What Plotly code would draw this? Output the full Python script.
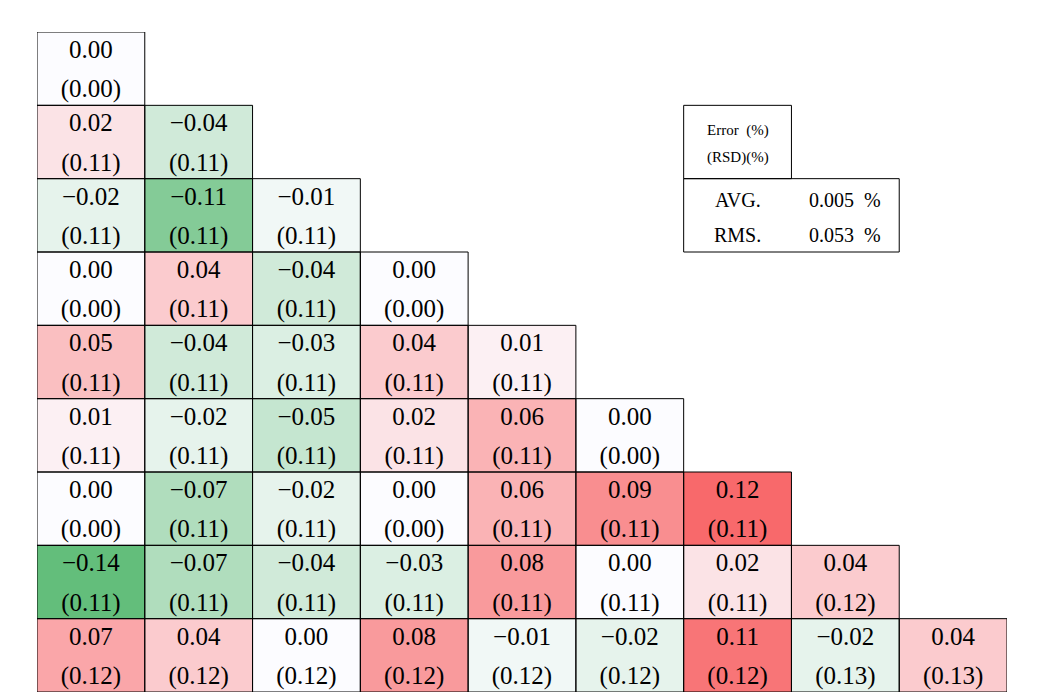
import plotly.graph_objects as go

# Error (%) per cell, lower-triangular grid (row i has i+1 cells)
errors = [
    [0.00],
    [0.02, -0.04],
    [-0.02, -0.11, -0.01],
    [0.00, 0.04, -0.04, 0.00],
    [0.05, -0.04, -0.03, 0.04, 0.01],
    [0.01, -0.02, -0.05, 0.02, 0.06, 0.00],
    [0.00, -0.07, -0.02, 0.00, 0.06, 0.09, 0.12],
    [-0.14, -0.07, -0.04, -0.03, 0.08, 0.00, 0.02, 0.04],
    [0.07, 0.04, 0.00, 0.08, -0.01, -0.02, 0.11, -0.02, 0.04],
]
# RSD (%) per cell
rsd = [
    [0.00],
    [0.11, 0.11],
    [0.11, 0.11, 0.11],
    [0.00, 0.11, 0.11, 0.00],
    [0.11, 0.11, 0.11, 0.11, 0.11],
    [0.11, 0.11, 0.11, 0.11, 0.11, 0.00],
    [0.00, 0.11, 0.11, 0.00, 0.11, 0.11, 0.11],
    [0.11, 0.11, 0.11, 0.11, 0.11, 0.11, 0.11, 0.12],
    [0.12, 0.12, 0.12, 0.12, 0.12, 0.12, 0.12, 0.13, 0.13],
]
summary_labels = ["AVG.", "RMS."]
summary_values = ["0.005\u00a0\u00a0%", "0.053\u00a0\u00a0%"]
legend_lines = ["Error\u00a0\u00a0(%)", "(RSD)(%)"]

n = len(errors)
FONT = "'Liberation Serif', 'DejaVu Serif', serif"

def fmt(v):
    s = f"{v:.2f}"
    return s.replace("-", "\u2212")

z = [[errors[i][j] if j <= i else None for j in range(n)] for i in range(n)]

zmin, zmax = -0.14, 0.12
mid = (0 - zmin) / (zmax - zmin)
colorscale = [[0, "#63BE7B"], [mid, "#FCFCFF"], [1, "#F8696B"]]

fig = go.Figure()
fig.add_trace(go.Heatmap(
    z=z, x=list(range(n)), y=list(range(n)),
    colorscale=colorscale, zmin=zmin, zmax=zmax, showscale=False,
    hoverongaps=False,
))

xs, ys_v, ys_r, tv, tr = [], [], [], [], []
for i in range(n):
    for j in range(i + 1):
        xs.append(j)
        ys_v.append(i - 0.23)
        ys_r.append(i + 0.305)
        tv.append(fmt(errors[i][j]))
        tr.append(f"({rsd[i][j]:.2f})")

fig.add_trace(go.Scatter(x=xs, y=ys_v, text=tv, mode="text",
                         textfont=dict(family=FONT, size=25, color="black"),
                         hoverinfo="skip"))
fig.add_trace(go.Scatter(x=xs, y=ys_r, text=tr, mode="text",
                         textfont=dict(family=FONT, size=25, color="black"),
                         hoverinfo="skip"))

shapes = []
for i in range(n):
    for j in range(i + 1):
        shapes.append(dict(type="rect", xref="x", yref="y",
                           x0=j - 0.5, x1=j + 0.5, y0=i - 0.5, y1=i + 0.5,
                           line=dict(color="black", width=1), fillcolor="rgba(0,0,0,0)"))

# legend boxes aligned to grid: box1 at row 1 col 6; box2 row 2 cols 6-7
shapes.append(dict(type="rect", xref="x", yref="y", x0=5.5, x1=6.5, y0=0.5, y1=1.5,
                   line=dict(color="black", width=1)))
shapes.append(dict(type="rect", xref="x", yref="y", x0=5.5, x1=7.5, y0=1.5, y1=2.5,
                   line=dict(color="black", width=1)))

annotations = []
for k, t in enumerate(legend_lines):
    annotations.append(dict(x=6, y=1 - 0.16 + k * 0.37, xref="x", yref="y", text=t,
                            showarrow=False, font=dict(family=FONT, size=15, color="black")))
for k in range(2):
    yy = 2 - 0.21 + k * 0.48
    annotations.append(dict(x=6, y=yy, xref="x", yref="y", text=summary_labels[k],
                            showarrow=False, font=dict(family=FONT, size=20, color="black")))
    annotations.append(dict(x=7, y=yy, xref="x", yref="y", text=summary_values[k],
                            showarrow=False, font=dict(family=FONT, size=20, color="black")))

fig.update_layout(
    width=1030, height=691,
    margin=dict(l=29, r=31, t=24, b=7),
    plot_bgcolor="white", paper_bgcolor="white",
    showlegend=False,
    shapes=shapes, annotations=annotations,
    xaxis=dict(range=[-0.5, n - 0.5], visible=False, fixedrange=True),
    yaxis=dict(range=[n - 0.5, -0.5], visible=False, fixedrange=True),
)

fig.write_html("out.html")
